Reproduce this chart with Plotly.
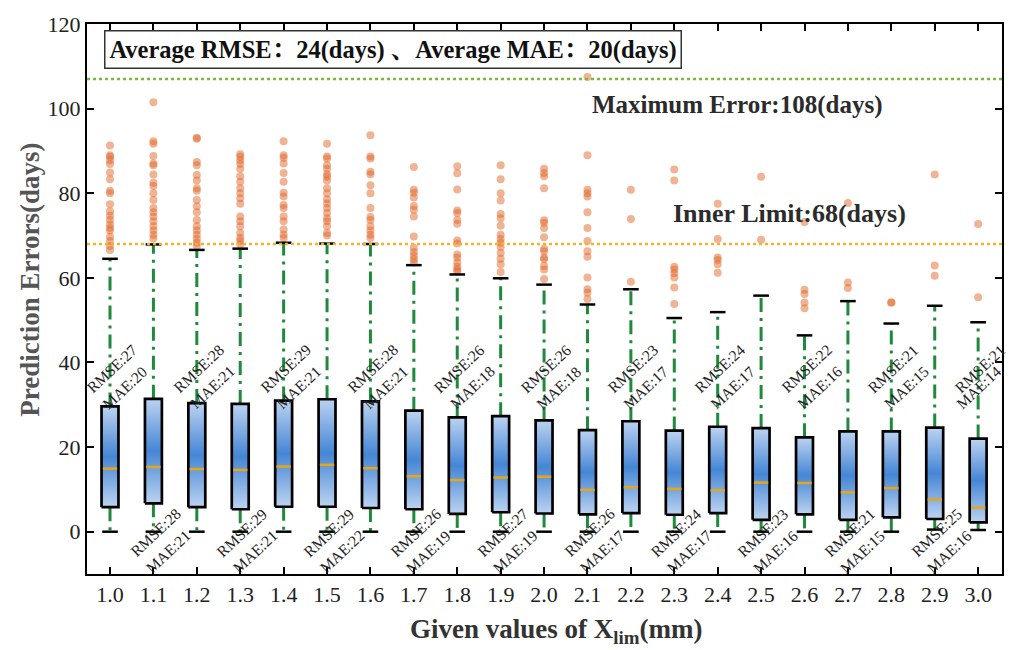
import plotly.graph_objects as go

categories = ["1.0", "1.1", "1.2", "1.3", "1.4", "1.5", "1.6", "1.7", "1.8", "1.9", "2.0",
              "2.1", "2.2", "2.3", "2.4", "2.5", "2.6", "2.7", "2.8", "2.9", "3.0"]
upper = [64.5, 67.9, 66.6, 66.9, 68.3, 68.1, 68.0, 63.0, 60.8, 59.9, 58.4,
         53.7, 57.3, 50.5, 51.9, 55.8, 46.4, 54.5, 49.2, 53.4, 49.5]
q3 = [29.6, 31.4, 30.4, 30.2, 31.0, 31.3, 30.8, 28.6, 27.0, 27.3, 26.3,
      24.0, 26.1, 23.9, 24.8, 24.5, 22.3, 23.7, 23.7, 24.6, 22.0]
median = [14.9, 15.3, 14.8, 14.6, 15.4, 15.8, 15.0, 13.1, 12.2, 12.8, 13.0,
          9.9, 10.5, 10.1, 9.8, 11.6, 11.5, 9.3, 10.3, 7.6, 5.7]
q1 = [5.8, 6.7, 5.8, 5.3, 5.9, 5.9, 5.6, 5.3, 4.2, 4.6, 4.3,
      4.1, 4.4, 4.0, 4.4, 2.8, 4.1, 2.8, 3.4, 3.0, 2.2]
lower = [0, 0, 0, 0, 0, 0, 0, 0, 0, 0, 0,
         0, 0, 0, 0, 0, 0, 0, 0, 0.5, 0.4]
rmse = [27, 28, 28, 29, 29, 29, 28, 26, 26, 27, 26, 26, 23, 24, 24, 23, 22, 21, 21, 25, 21]
mae = [20, 21, 21, 21, 21, 22, 21, 19, 18, 19, 18, 17, 17, 17, 17, 16, 16, 15, 15, 16, 14]

outliers = {
    "1.0": [91.3, 89.0, 88.6, 87.8, 86.9, 84.9, 83.3, 80.6, 80.0, 77.4, 75.7, 74.7, 73.7,
            72.6, 71.8, 71.2, 69.7, 68.7, 67.5, 66.6],
    "1.1": [101.5, 92.3, 91.7, 88.8, 87.0, 86.6, 84.4, 82.5, 81.7, 80.0, 78.4, 76.5, 75.5,
            74.5, 73.4, 72.2, 71.2, 70.2, 69.3],
    "1.2": [93.1, 92.9, 87.4, 86.6, 84.3, 83.0, 81.2, 80.6, 78.4, 76.9, 75.5, 73.7, 72.2,
            71.2, 70.2, 69.2, 68.3, 67.5],
    "1.3": [89.2, 88.6, 87.8, 86.9, 85.8, 84.0, 82.7, 81.2, 80.0, 78.8, 77.5, 74.5, 73.4,
            72.2, 70.6, 69.4, 68.7, 67.9],
    "1.4": [92.3, 89.0, 88.4, 87.0, 84.8, 82.7, 80.1, 79.2, 77.2, 76.5, 74.5, 73.4, 71.4,
            70.2, 69.4],
    "1.5": [91.7, 88.7, 88.2, 86.6, 85.8, 84.5, 83.9, 83.0, 81.2, 80.0, 78.6, 77.6, 76.5,
            75.3, 74.1, 73.4, 72.2, 70.6, 70.0],
    "1.6": [93.7, 88.7, 88.2, 85.1, 84.5, 81.9, 80.0, 76.5, 74.4, 73.7, 72.2, 71.2, 70.2, 69.4],
    "1.7": [86.2, 80.8, 80.1, 79.0, 77.0, 76.1, 74.5, 69.8, 67.1, 66.1, 65.2, 64.4, 63.6],
    "1.8": [86.4, 84.7, 80.9, 75.9, 75.3, 73.7, 72.8, 68.8, 68.1, 65.5, 64.8, 63.6, 62.6,
            62.0, 61.5],
    "1.9": [86.6, 83.3, 80.0, 78.3, 75.1, 74.1, 72.3, 70.2, 69.2, 68.3, 67.3, 65.9, 64.5,
            63.2, 61.4],
    "2.0": [85.8, 84.8, 84.0, 81.2, 73.6, 73.0, 71.8, 69.6, 66.9, 66.3, 64.8, 64.4, 62.8,
            62.0, 59.7],
    "2.1": [107.5, 89.0, 80.8, 80.0, 79.2, 75.5, 71.8, 68.7, 66.3, 65.0, 60.1, 57.3, 56.5, 55.0],
    "2.2": [80.8, 73.9, 59.1],
    "2.3": [85.6, 83.0, 62.6, 62.0, 61.1, 60.1, 57.7, 53.8],
    "2.4": [77.5, 69.2, 64.8, 64.2, 63.2, 61.2],
    "2.5": [83.9, 69.0],
    "2.6": [73.2, 57.2, 56.2, 54.2, 52.8],
    "2.7": [77.7, 58.9, 57.6],
    "2.8": [54.2, 54.2],
    "2.9": [84.4, 62.9, 60.5],
    "3.0": [72.7, 55.4],
}

max_error = 107
inner_limit = 68

SERIF = "Liberation Serif, Times New Roman, Noto Serif CJK SC, Noto Sans CJK SC, serif"
BOX_HALF = 0.195
CAP_HALF = 0.18
X_MAX = 20.55

fig = go.Figure()

# outliers
ox, oy = [], []
for i, c in enumerate(categories):
    for v in outliers[c]:
        ox.append(i)
        oy.append(v)
fig.add_trace(go.Scatter(x=ox, y=oy, mode="markers",
                         marker=dict(color="#e2682a", size=8, opacity=0.5, line=dict(width=0)),
                         showlegend=False, hoverinfo="skip"))

# whiskers
wx, wy = [], []
for i in range(len(categories)):
    wx += [i, i, None, i, i, None]
    wy += [q3[i], upper[i], None, q1[i], lower[i], None]
fig.add_trace(go.Scatter(x=wx, y=wy, mode="lines",
                         line=dict(color="#1f8a3c", width=3, dash="14px,6px,3px,6px"),
                         showlegend=False, hoverinfo="skip"))

# caps
cx, cy = [], []
for i in range(len(categories)):
    cx += [i - CAP_HALF, i + CAP_HALF, None, i - CAP_HALF, i + CAP_HALF, None]
    cy += [upper[i], upper[i], None, lower[i], lower[i], None]
fig.add_trace(go.Scatter(x=cx, y=cy, mode="lines", line=dict(color="black", width=2.5),
                         showlegend=False, hoverinfo="skip"))

# boxes with gradient fill
for i in range(len(categories)):
    fig.add_trace(go.Scatter(
        x=[i - BOX_HALF, i + BOX_HALF, i + BOX_HALF, i - BOX_HALF, i - BOX_HALF],
        y=[q1[i], q1[i], q3[i], q3[i], q1[i]],
        mode="lines", fill="toself",
        fillgradient=dict(type="vertical",
                          colorscale=[[0, "#bcd3f1"], [0.5, "#4586d4"], [1, "#bcd3f1"]]),
        line=dict(color="black", width=2.7),
        showlegend=False, hoverinfo="skip"))

# medians
mx, my = [], []
for i in range(len(categories)):
    mx += [i - BOX_HALF + 0.03, i + BOX_HALF - 0.03, None]
    my += [median[i], median[i], None]
fig.add_trace(go.Scatter(x=mx, y=my, mode="lines", line=dict(color="#e8a515", width=2.5),
                         showlegend=False, hoverinfo="skip"))

# reference lines
fig.add_shape(type="line", xref="paper", x0=0, x1=1, yref="y", y0=max_error, y1=max_error,
              line=dict(color="#7cb83e", width=2.5, dash="dot"))
fig.add_shape(type="line", xref="paper", x0=0, x1=1, yref="y", y0=inner_limit, y1=inner_limit,
              line=dict(color="#f2b328", width=2.5, dash="dot"))

annotations = []
for i in range(len(categories)):
    if i % 2 == 0:
        ry, my_ = 38.5, 34.2
    else:
        ry, my_ = -0.3, -4.7
    annotations.append(dict(x=i + 0.05, y=ry, xref="x", yref="y", text=f"RMSE:{rmse[i]}",
                            showarrow=False, textangle=-43,
                            font=dict(family=SERIF, size=15.5, color="#222")))
    annotations.append(dict(x=min(i + 0.34, X_MAX - 0.55), y=my_, xref="x", yref="y",
                            text=f"MAE:{mae[i]}", showarrow=False, textangle=-43,
                            font=dict(family=SERIF, size=15.5, color="#222")))

annotations.append(dict(x=14.45, y=100.8, xref="x", yref="y",
                        text=f"Maximum Error:{max_error + 1}(days)", showarrow=False,
                        font=dict(family=SERIF, size=25, color="#2b2b2b", weight="bold")))
annotations.append(dict(x=15.65, y=75.2, xref="x", yref="y",
                        text=f"Inner Limit:{inner_limit}(days)", showarrow=False,
                        font=dict(family=SERIF, size=26, color="#2b2b2b", weight="bold")))
annotations.append(dict(x=6.52, y=114, xref="x", yref="y",
                        text="Average RMSE：24(days) 、Average MAE：20(days)", showarrow=False,
                        bordercolor="#333", borderwidth=1.5, borderpad=4, bgcolor="white",
                        font=dict(family=SERIF, size=24.5, color="#111", weight="bold")))

# axis titles
annotations.append(dict(x=0.5126, y=-0.1045, xref="paper", yref="paper",
                        xanchor="center", yanchor="middle",
                        text="Given values of X<sub>lim</sub>(mm)", showarrow=False,
                        font=dict(family=SERIF, size=27, color="#333", weight="bold")))
annotations.append(dict(x=-0.0623, y=0.535, xref="paper", yref="paper",
                        xanchor="center", yanchor="middle",
                        text="Prediction Errors(days)", showarrow=False, textangle=-90,
                        font=dict(family=SERIF, size=27, color="#555", weight="bold")))

fig.update_layout(
    width=1016, height=650,
    margin=dict(l=87, r=14, t=19, b=76),
    plot_bgcolor="white", paper_bgcolor="white",
    annotations=annotations,
    showlegend=False,
)
fig.update_xaxes(
    range=[-0.53, X_MAX], tickmode="array", tickvals=list(range(len(categories))),
    ticktext=categories, showgrid=False, zeroline=False,
    showline=True, linecolor="black", linewidth=2, mirror="ticks",
    ticks="inside", ticklen=7, tickwidth=2, tickcolor="black",
    tickfont=dict(family=SERIF, size=22, color="#222"),
)
fig.update_yaxes(
    range=[-10, 120], tickvals=[0, 20, 40, 60, 80, 100, 120], showgrid=False, zeroline=False,
    showline=True, linecolor="black", linewidth=2, mirror="ticks",
    ticks="inside", ticklen=7, tickwidth=2, tickcolor="black",
    tickfont=dict(family=SERIF, size=22, color="#222"),
)

fig.write_html("out.html")
